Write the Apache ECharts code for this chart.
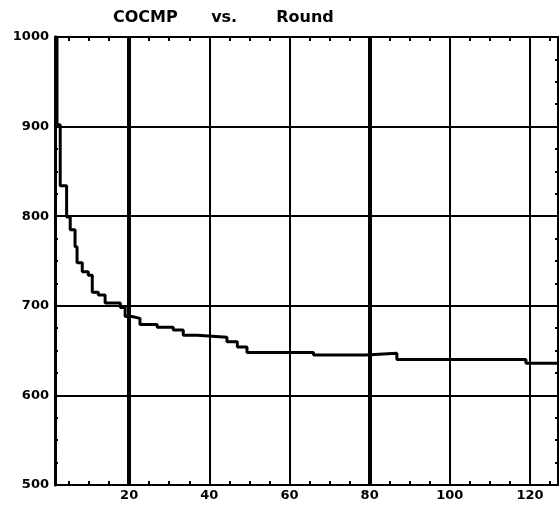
<!DOCTYPE html>
<html>
<head>
<meta charset="utf-8">
<script src="https://cdn.jsdelivr.net/npm/echarts@6/dist/echarts.min.js"></script>
<style>
  html, body { margin: 0; padding: 0; background: #fff; }
  #chart { width: 560px; height: 507px; }
</style>
</head>
<body>
<div id="chart"></div>
<script>
// step curve: [round, value] where each pair starts a new level
const curve = [
  [1.5, 1000], [2.0, 902], [2.8, 834], [4.4, 799], [5.3, 785], [6.5, 766],
  [7.0, 748], [8.3, 738], [9.8, 734], [10.8, 715], [12.3, 712], [14.0, 703],
  [17.8, 698], [19.0, 688], [20.7, 686], [22.7, 679], [27.0, 676], [31.0, 673],
  [33.5, 667], [37.0, 665], [44.4, 660], [47.0, 654], [49.4, 648], [61.0, 648],
  [66.0, 645], [79.0, 647], [86.8, 640], [119.0, 636], [127.0, 636]
];
const xLabels = [20, 40, 60, 80, 100, 120];
const xTicks = [5, 10, 15, 20, 25, 30, 35, 40, 45, 50, 55, 60, 65, 70, 75, 80, 85, 90, 95, 100, 105, 110, 115, 120, 125];
const yGrid = [900, 800, 700, 600];
const boldX = [20, 80];

const chart = echarts.init(document.getElementById('chart'));
const labelFont = {color: '#000', fontFamily: 'DejaVu Sans', fontWeight: 'bold', fontSize: 13};

const vLines = xLabels.map(v => ({
  xAxis: v,
  lineStyle: {color: '#000', type: 'solid', width: boldX.includes(v) ? 4 : 2}
}));
const hLines = yGrid.map(v => ({
  yAxis: v,
  lineStyle: {color: '#000', type: 'solid', width: 2}
}));

chart.setOption({
  animation: false,
  title: {
    text: 'COCMP      vs.       Round',
    left: 108, top: 5,
    textStyle: {color: '#000', fontFamily: 'DejaVu Sans', fontWeight: 'bold', fontSize: 16}
  },
  grid: {left: 55, right: 2, top: 37, bottom: 22},
  xAxis: [
    {
      type: 'value', min: 1.5, max: 127, position: 'bottom',
      axisLine: {lineStyle: {color: '#000', width: 2}},
      axisTick: {inside: true, length: 4, customValues: xTicks, lineStyle: {color: '#000', width: 2}},
      axisLabel: Object.assign({customValues: xLabels, margin: 4}, labelFont),
      splitLine: {show: false}
    },
    {
      type: 'value', min: 1.5, max: 127, position: 'top',
      axisLine: {lineStyle: {color: '#000', width: 2}},
      axisTick: {inside: true, length: 4, customValues: xTicks, lineStyle: {color: '#000', width: 2}},
      axisLabel: {show: false},
      splitLine: {show: false}
    }
  ],
  yAxis: [
    {
      type: 'value', min: 500, max: 1000, interval: 100, position: 'left',
      axisLine: {show: true, lineStyle: {color: '#000', width: 3}},
      axisTick: {show: true, inside: true, length: 4, lineStyle: {color: '#000', width: 2}},
      minorTick: {show: true, splitNumber: 4, length: 3, lineStyle: {color: '#000', width: 2}},
      axisLabel: Object.assign({margin: 6, formatter: v => String(v)}, labelFont),
      splitLine: {show: false}
    },
    {
      type: 'value', min: 500, max: 1000, interval: 100, position: 'right',
      axisLine: {show: true, lineStyle: {color: '#000', width: 2}},
      axisTick: {show: true, inside: true, length: 4, lineStyle: {color: '#000', width: 2}},
      minorTick: {show: true, splitNumber: 4, length: 3, lineStyle: {color: '#000', width: 2}},
      axisLabel: {show: false},
      splitLine: {show: false}
    }
  ],
  series: [
    {
      type: 'line',
      step: 'end',
      data: curve,
      showSymbol: false,
      lineStyle: {color: '#000', width: 3},
      markLine: {
        silent: true,
        symbol: 'none',
        label: {show: false},
        data: vLines.concat(hLines)
      },
      z: 3
    }
  ]
});
</script>
</body>
</html>
